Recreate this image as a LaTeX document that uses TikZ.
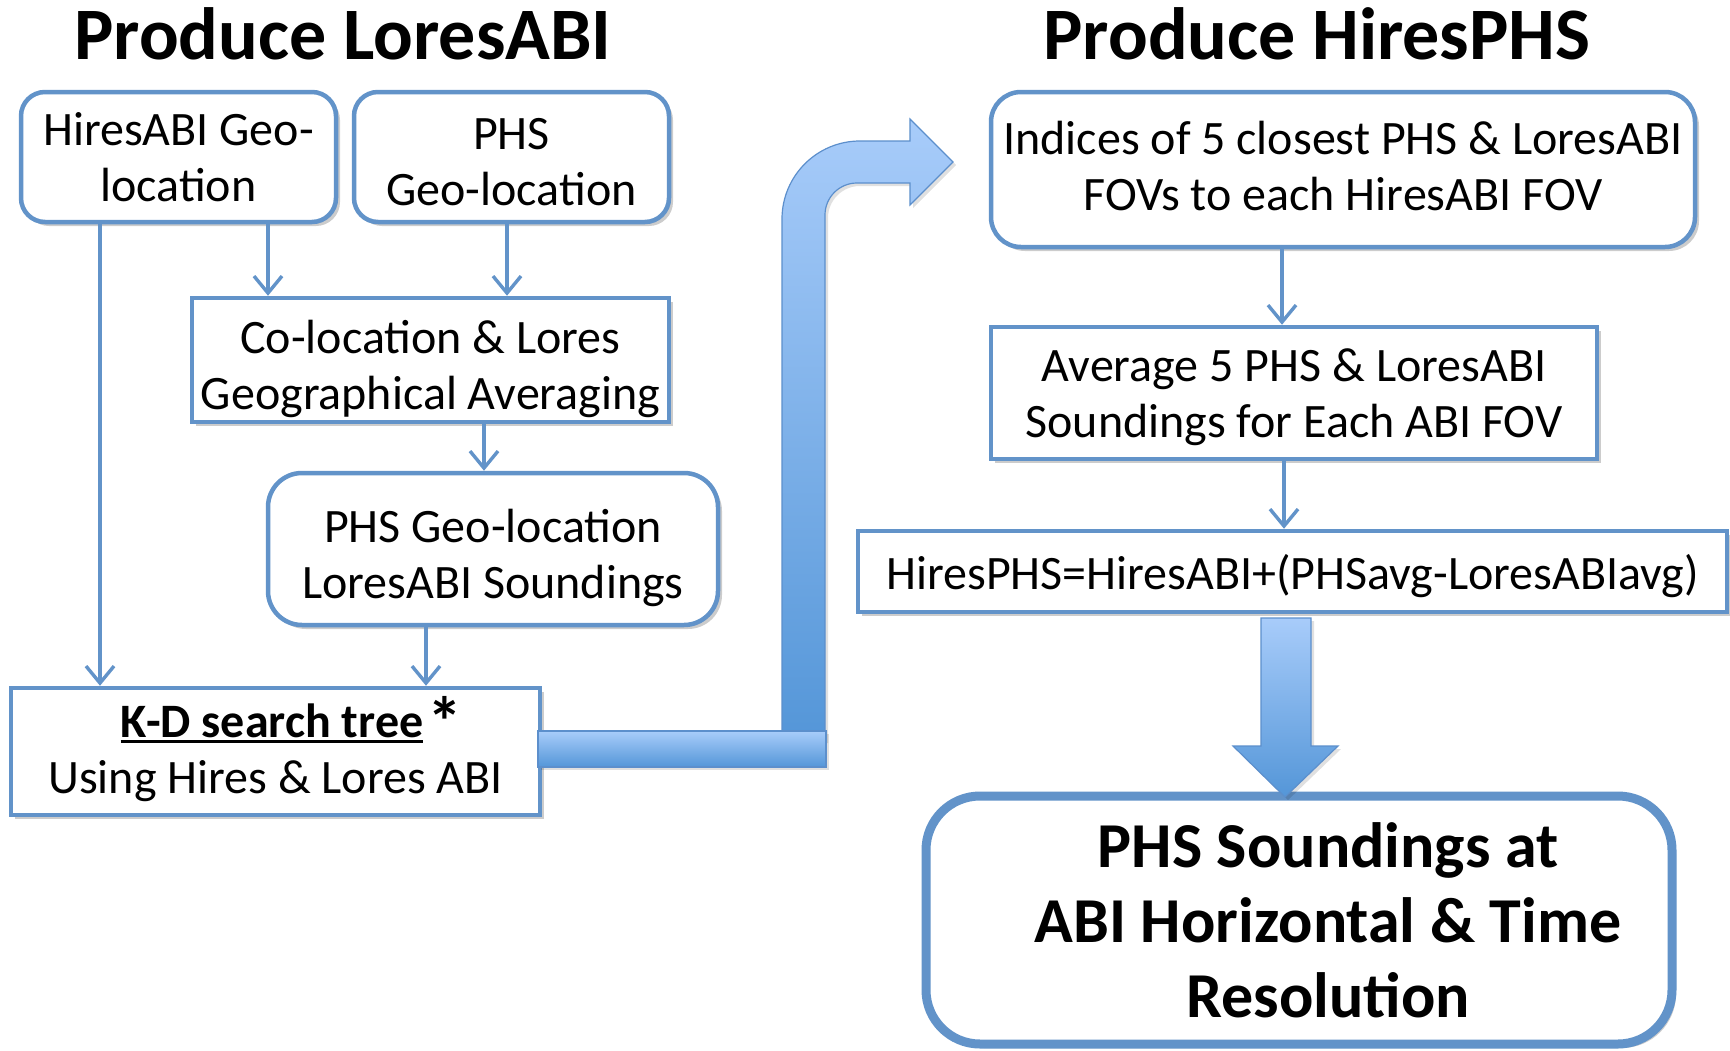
\documentclass[tikz,border=0pt]{standalone}
\usepackage{fontspec}
\setmainfont{Carlito}
\usetikzlibrary{arrows.meta,shadows}
\definecolor{boxblue}{RGB}{98,147,201}
\definecolor{arrlight}{RGB}{168,204,250}
\definecolor{arrdark}{RGB}{84,150,216}
\definecolor{arredge}{RGB}{92,143,204}
\newcommand\kdul[1]{\setbox0\hbox{#1}\rlap{\rule[-3.2pt]{\wd0}{1.6pt}}\box0}
\begin{document}
\begin{tikzpicture}[x=0.5pt,y=-0.5pt,
  base/.style={draw=boxblue, line width=2.25pt, fill=white, align=center, inner sep=0pt,
    font=\fontsize{24}{28}\selectfont, text depth=0pt,
    drop shadow={shadow xshift=2pt, shadow yshift=-2pt, fill=black, opacity=0.2}},
  rbox/.style={base, rounded corners=12pt},
  sbox/.style={base},
  conn/.style={draw=boxblue, line width=1.7pt, -{Straight Barb[length=8.5pt,width=14pt]}},
  bigarrow/.style={draw=arredge, line width=0.6pt, top color=arrlight, bottom color=arrdark,
    drop shadow={shadow xshift=1.5pt, shadow yshift=-1.5pt, fill=black, opacity=0.12}},
  title/.style={font=\fontsize{37}{44}\selectfont\bfseries, anchor=base},
]
\useasboundingbox (0,0) rectangle (1730,1050);
\fill[white] (0,0) rectangle (1730,1050);

% titles
\node[title] (t1) at (343,59) {Produce LoresABI};
\node[title] (t2) at (1317,59) {Produce HiresPHS};

% left column
\node[rbox, minimum width=157.5pt, minimum height=65pt] (b1) at (178.5,157) {HiresABI Geo-\\location};
\node[rbox, minimum width=157.5pt, minimum height=65pt] (b2) at (511.5,157) {\rule{0pt}{20pt}PHS\\Geo-location};
\node[sbox, minimum width=238.5pt, minimum height=62pt] (b3) at (430.5,360) {\rule{0pt}{21pt}Co-location \& Lores\\Geographical Averaging};
\node[rbox, rounded corners=17pt, minimum width=225pt, minimum height=76pt] (b4) at (493,549) {\rule{0pt}{21pt}PHS Geo-location\\LoresABI Soundings};
\node[sbox, text depth=7pt, minimum width=264.5pt, minimum height=63.5pt] (b5) at (275.5,751.5) {\hspace*{16pt}\textbf{\kdul{K-D search tree}}\hspace{2pt}\raisebox{-4.5pt}{\fontsize{35}{35}\selectfont\bfseries *}\\Using Hires \& Lores ABI};

% right column
\node[rbox, rounded corners=15pt, text depth=3.3pt, minimum width=352pt, minimum height=77.5pt] (b6) at (1343,169.5) {Indices of 5 closest PHS \& LoresABI\\FOVs to each HiresABI FOV};
\node[sbox, minimum width=303pt, minimum height=66pt] (b7) at (1294,393) {Average 5 PHS \& LoresABI\\Soundings for Each ABI FOV};
\node[sbox, minimum width=434.5pt, minimum height=40.5pt] (b8) at (1292.5,571.5) {HiresPHS=HiresABI+(PHSavg-LoresABIavg)};
\node[base, line width=4.5pt, rounded corners=27pt, minimum width=373pt, minimum height=124pt] (b9) at (1299,920) {};
\node[font=\fontsize{32}{37.5}\selectfont\bfseries, align=center, inner sep=0pt] (b9t) at (1328,920) {PHS Soundings at\\ABI Horizontal \& Time\\Resolution};

% connector x positions
\coordinate (xa) at (100,0);
\coordinate (xb) at (268,0);
\coordinate (xc) at (507,0);
\coordinate (xd) at (484,0);
\coordinate (xe) at (426,0);
\coordinate (xf) at (1282,0);
\coordinate (xg) at (1284,0);

\draw[conn] (b1.south -| xa) -- (b5.north -| xa);
\draw[conn] (b1.south -| xb) -- (b3.north -| xb);
\draw[conn] (b2.south -| xc) -- (b3.north -| xc);
\draw[conn] (b3.south -| xd) -- (b4.north -| xd);
\draw[conn] (b4.south -| xe) -- (b5.north -| xe);
\draw[conn] (b6.south -| xf) -- (b7.north -| xf);
\draw[conn] (b7.south -| xg) -- (b8.north -| xg);

% bent block arrow
\draw[bigarrow] (782,740) -- (782,219) .. controls (782,175.9) and (816.9,141) .. (860,141)
  -- (910,141) -- (910,119) -- (953,162) -- (910,205) -- (910,183) -- (857,183)
  .. controls (839.3,183) and (825,197.3) .. (825,215) -- (825,740) -- cycle;
% horizontal bar from K-D box
\draw[bigarrow] (538,731) rectangle (826,767);

% down block arrow
\draw[bigarrow] (1261,618) -- (1311,618) -- (1311,746) -- (1338,746) -- (1285,797)
  -- (1233,746) -- (1261,746) -- cycle;
\end{tikzpicture}
\end{document}
